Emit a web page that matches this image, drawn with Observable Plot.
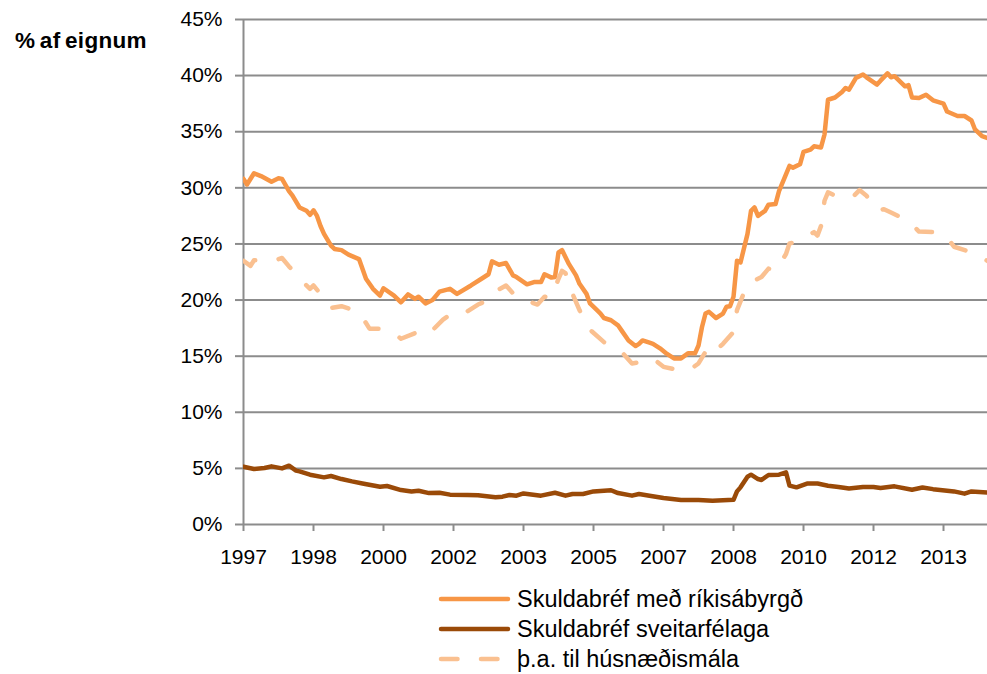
<!DOCTYPE html>
<html>
<head>
<meta charset="utf-8">
<script src="https://cdn.jsdelivr.net/npm/d3@7"></script>
<script src="https://cdn.jsdelivr.net/npm/@observablehq/plot@0.6"></script>
<style>
  html, body { margin: 0; padding: 0; background: #fff; }
  #wrap { position: relative; width: 987px; height: 674px; overflow: hidden; font-family: "Liberation Sans", Arial, sans-serif; }
  #wrap > svg { position: absolute; left: 0; top: 0; }
</style>
</head>
<body>
<div id="wrap"></div>
<script>
// ---------- data ----------
const seriesNames = ["Skuldabréf með ríkisábyrgð", "Skuldabréf sveitarfélaga", "þ.a. til húsnæðismála"];
const seriesColors = ["#F79646", "#9A4A08", "#FAC090"];
const yAxisTitle = "% af eignum";

const rikisDates = ["1997-01","1997-02","1997-04","1997-06","1997-09","1997-11","1997-12","1998-02","1998-03","1998-05","1998-07","1998-08","1998-09","1998-10","1998-11","1998-12","1999-02","1999-03","1999-05","1999-07","1999-10","1999-12","2000-02","2000-04","2000-05","2000-08","2000-10","2000-12","2001-02","2001-03","2001-05","2001-07","2001-09","2001-12","2002-02","2002-06","2002-09","2002-11","2002-12","2003-02","2003-04","2003-06","2003-07","2003-10","2003-12","2004-02","2004-03","2004-05","2004-06","2004-07","2004-08","2004-10","2004-12","2005-01","2005-03","2005-04","2005-06","2005-07","2005-08","2005-10","2005-12","2006-01","2006-03","2006-05","2006-06","2006-07","2006-09","2006-10","2006-12","2007-02","2007-04","2007-06","2007-08","2007-10","2007-11","2007-12","2008-01","2008-02","2008-04","2008-06","2008-07","2008-08","2008-09","2008-10","2008-11","2009-01","2009-02","2009-03","2009-04","2009-06","2009-07","2009-09","2009-10","2010-01","2010-02","2010-04","2010-05","2010-07","2010-08","2010-10","2010-11","2010-12","2011-02","2011-04","2011-05","2011-06","2011-08","2011-10","2011-11","2012-02","2012-03","2012-05","2012-06","2012-07","2012-10","2012-11","2012-12","2013-02","2013-04","2013-06","2013-09","2013-10","2014-01","2014-03","2014-05","2014-06","2014-08","2014-10"];
const rikisValues = [30.8,30.3,31.3,31.05,30.55,30.85,30.8,29.7,29.3,28.25,27.95,27.6,28.0,27.5,26.6,25.9,24.85,24.55,24.45,24.05,23.65,21.9,21.0,20.4,21.05,20.4,19.8,20.5,20.1,20.3,19.7,20.0,20.75,21.0,20.55,21.3,21.9,22.3,23.45,23.15,23.3,22.2,22.05,21.4,21.6,21.6,22.3,22.0,22.05,24.25,24.45,23.2,22.2,21.45,20.55,19.7,19.1,18.8,18.4,18.2,17.75,17.3,16.4,15.9,16.1,16.4,16.2,16.1,15.7,15.2,14.8,14.8,15.25,15.25,15.95,17.6,18.8,18.95,18.4,18.8,19.4,19.45,20.3,23.5,23.35,25.9,27.95,28.25,27.5,27.95,28.5,28.55,29.7,31.95,31.8,32.1,33.2,33.4,33.7,33.6,34.75,37.85,38.05,38.55,38.9,38.75,39.8,40.1,39.85,39.2,39.55,40.2,39.85,39.95,39.05,39.15,38.05,38.0,38.3,37.8,37.5,36.8,36.4,36.4,36.0,35.2,34.6,34.4];

const sveitDates = ["1997-01","1997-04","1997-07","1997-09","1997-12","1998-02","1998-04","1998-05","1998-08","1998-12","1999-02","1999-05","1999-08","1999-11","2000-04","2000-06","2000-10","2001-01","2001-03","2001-06","2001-09","2001-12","2002-05","2002-08","2003-01","2003-03","2003-05","2003-07","2003-09","2004-02","2004-06","2004-09","2004-11","2005-02","2005-05","2005-10","2005-12","2006-04","2006-06","2006-09","2007-01","2007-06","2007-11","2008-03","2008-09","2008-10","2008-11","2009-01","2009-02","2009-04","2009-05","2009-07","2009-10","2009-12","2010-01","2010-03","2010-06","2010-09","2010-12","2011-03","2011-06","2011-10","2012-01","2012-03","2012-07","2012-12","2013-03","2013-06","2013-12","2014-03","2014-05","2014-10"];
const sveitValues = [5.15,4.95,5.03,5.18,5.0,5.24,4.8,4.73,4.44,4.2,4.32,4.05,3.84,3.66,3.37,3.43,3.07,2.95,3.01,2.8,2.83,2.66,2.63,2.6,2.42,2.48,2.63,2.57,2.77,2.57,2.83,2.57,2.72,2.72,2.95,3.05,2.8,2.57,2.72,2.57,2.36,2.18,2.18,2.12,2.2,2.95,3.31,4.26,4.44,4.05,3.97,4.41,4.44,4.64,3.46,3.31,3.65,3.65,3.46,3.35,3.2,3.35,3.35,3.25,3.4,3.1,3.3,3.15,2.95,2.75,2.95,2.85];

const husnDates = ["1997-01","1997-03","1997-04","1997-10","1997-12","1998-02","1998-06","1998-08","1998-09","1999-01","1999-02","1999-05","1999-10","2000-01","2000-05","2000-08","2000-10","2001-02","2001-04","2001-06","2001-10","2001-12","2002-03","2002-08","2002-11","2002-12","2003-04","2003-07","2004-01","2004-03","2004-05","2004-07","2004-08","2004-09","2004-11","2005-01","2005-04","2005-08","2006-01","2006-04","2006-09","2006-10","2007-01","2007-06","2007-09","2007-11","2008-02","2008-04","2008-06","2008-09","2008-10","2009-01","2009-05","2009-07","2009-09","2009-12","2010-01","2010-03","2010-08","2010-09","2010-10","2010-11","2010-12","2011-02","2011-07","2011-09","2011-11","2012-02","2012-04","2012-06","2012-11","2013-02","2013-07","2013-10","2013-12","2014-06","2014-10"];
const husnValues = [23.5,23.05,23.55,23.55,23.75,23.0,21.6,21.0,21.3,19.8,19.3,19.45,18.95,17.45,17.45,17.05,16.55,17.05,17.3,17.0,18.25,18.7,18.6,19.6,20.0,20.6,21.3,20.25,19.6,20.3,20.2,21.9,22.6,22.4,20.55,19.1,17.35,16.25,15.4,14.35,14.6,14.8,14.05,13.7,13.9,14.35,15.9,15.5,16.1,17.15,19.1,21.45,22.05,22.8,22.6,24.1,25.05,25.15,26.05,25.75,26.6,28.85,29.6,29.3,29.15,29.8,29.3,27.95,28.1,27.8,27.05,26.1,26.05,25.6,24.75,24.15,23.4];

const xTickDates = ["1997-01","1998-09","2000-05","2002-01","2003-09","2005-05","2007-01","2008-09","2010-05","2012-01","2013-09"];
const xTickLabels = ["1997","1998","2000","2002","2003","2005","2007","2008","2010","2012","2013"];
const yTicks = [0,5,10,15,20,25,30,35,40,45];

// ---------- helpers ----------
const monthIndex = s => (+s.slice(0, 4) - 1997) * 12 + (+s.slice(5, 7) - 1);
const rows = (dates, values, name) => dates.map((d, i) => ({x: monthIndex(d), y: values[i], name}));

const rikis = rows(rikisDates, rikisValues, seriesNames[0]);
const sveit = rows(sveitDates, sveitValues, seriesNames[1]);
const husn = rows(husnDates, husnValues, seriesNames[2]);
const xTicks = xTickDates.map(monthIndex);
const labelOf = new Map(xTicks.map((t, i) => [t, xTickLabels[i]]));

const gridColor = "#8c8c8c";
const lineW = 4.5;

const chart = Plot.plot({
  width: 987,
  height: 575,
  marginLeft: 243,
  marginRight: 0,
  marginTop: 19,
  marginBottom: 51,
  style: {fontFamily: "'Liberation Sans', Arial, sans-serif", fontSize: "21px", color: "#000", background: "transparent"},
  x: {type: "linear", domain: [0, 212.57]},
  y: {domain: [0, 45]},
  marks: [
    Plot.gridY(yTicks, {stroke: gridColor, strokeOpacity: 1, strokeWidth: 2}),
    Plot.ruleX([0], {stroke: gridColor, strokeWidth: 2}),
    Plot.axisY(yTicks, {tickSize: 8, tickPadding: 13, tickFormat: d => d + "%", stroke: gridColor, strokeWidth: 2, fill: "#000", label: null}),
    Plot.axisX(xTicks, {tickSize: 7, tickPadding: 18, tickFormat: d => labelOf.get(d), stroke: gridColor, strokeWidth: 2, fill: "#000", label: null}),
    Plot.line(rikis, {x: "x", y: "y", stroke: seriesColors[0], strokeWidth: lineW, strokeLinejoin: "round", strokeLinecap: "round", clip: true}),
    Plot.line(sveit, {x: "x", y: "y", stroke: seriesColors[1], strokeWidth: lineW, strokeLinejoin: "round", strokeLinecap: "round", clip: true}),
    Plot.line(husn, {x: "x", y: "y", stroke: seriesColors[2], strokeWidth: lineW, strokeLinejoin: "round", strokeLinecap: "round", strokeDasharray: "16.5,23.5", clip: true})
  ]
});

const wrap = document.getElementById("wrap");
wrap.appendChild(chart);

// ---------- overlay: y title + legend ----------
const ov = d3.create("svg").attr("width", 987).attr("height", 674)
  .style("pointer-events", "none")
  .style("font-family", "'Liberation Sans', Arial, sans-serif");

ov.append("text").attr("x", 15).attr("y", 48)
  .attr("font-size", 22.5).attr("font-weight", "bold")
  .attr("word-spacing", -2).attr("letter-spacing", 0.3)
  .text(yAxisTitle);

const legendRowsY = [599, 629, 659];
seriesNames.forEach((name, i) => {
  const g = ov.append("g");
  g.append("line").attr("x1", 441).attr("x2", 508)
    .attr("y1", legendRowsY[i]).attr("y2", legendRowsY[i])
    .attr("stroke", seriesColors[i]).attr("stroke-width", lineW)
    .attr("stroke-linecap", "round")
    .attr("stroke-dasharray", i === 2 ? "16.5,23.5" : null);
  g.append("text").attr("x", 517).attr("y", legendRowsY[i] + 8)
    .attr("font-size", 23.5)
    .text(name);
});
wrap.appendChild(ov.node());
</script>
</body>
</html>
